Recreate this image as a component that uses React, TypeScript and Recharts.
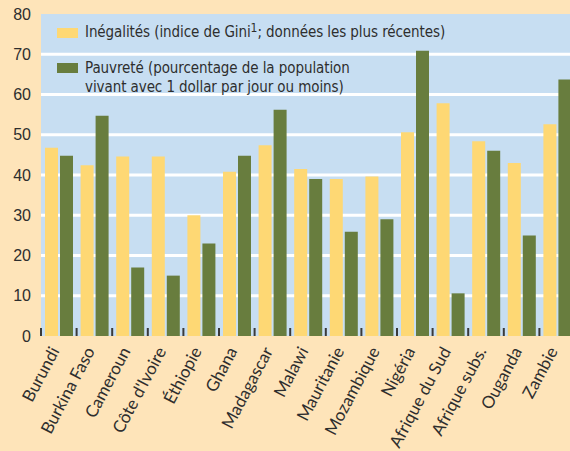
import React from 'react';
import { BarChart, Bar, XAxis, YAxis, CartesianGrid, Legend } from 'recharts';

const countries = ['Burundi', 'Burkina Faso', 'Cameroun', "Côte d'Ivoire", 'Éthiopie', 'Ghana', 'Madagascar', 'Malawi', 'Mauritanie', 'Mozambique', 'Nigéria', 'Afrique du Sud', 'Afrique subs.', 'Ouganda', 'Zambie'];
const gini = [46.8, 42.4, 44.6, 44.6, 30, 40.8, 47.4, 41.5, 39, 39.6, 50.6, 57.8, 48.4, 43, 52.6];
const poverty = [44.8, 54.7, 17, 15, 23, 44.8, 56.2, 39, 25.9, 29, 70.9, 10.6, 46, 25, 63.7];
const yTicks = [0, 10, 20, 30, 40, 50, 60, 70, 80];
const gridValues = [10, 20, 30, 40, 50, 60, 70];
const yMax = 80;

const data = countries.map((c, i) => ({ name: c, gini: gini[i], poverty: poverty[i] }));

const CONDENSED = "'DejaVu Sans Condensed', 'Liberation Sans Narrow', sans-serif";
const LABEL_FONT = "Lato, 'Open Sans', sans-serif";
const BG = '#FEE4B9';
const PLOT = '#C7DEF2';
const YELLOW = '#FED874';
const GREEN = '#687D3E';
const TEXT = '#2e2e2e';

const gridGen = (args: any) => {
  const s = args && args.yAxis && args.yAxis.scale;
  if (typeof s === 'function') return gridValues.map((v) => s(v));
  if (s && typeof s.map === 'function') return gridValues.map((v) => s.map(v));
  const off = args.offset;
  return gridValues.map((v) => off.top + off.height * (1 - v / yMax));
};

const XTick = (props: any) => {
  const { x, y, payload, width, visibleTicksCount } = props;
  const step = Number(width) > 0 && Number(visibleTicksCount) > 0 ? Number(width) / Number(visibleTicksCount) : 2 * (Number(payload.offset) || 17.8);
  const lx = x - step / 2;
  const tx = x + 1;
  const ty = y + 15;
  return (
    <g>
      <rect x={lx - 1} y={y - 8} width={2} height={8} fill="#3a3a3a" />
      <text x={tx} y={ty} transform={`rotate(-62, ${tx}, ${ty})`} textAnchor="end" fontSize={17} fill={TEXT} fontFamily={LABEL_FONT}>
        {payload.value}
      </text>
    </g>
  );
};

const LegendContent = () => (
  <div style={{ fontFamily: CONDENSED, fontSize: 15, letterSpacing: '-0.08px', color: TEXT, lineHeight: '19px', whiteSpace: 'nowrap' }}>
    <div style={{ display: 'flex', alignItems: 'flex-start' }}>
      <span style={{ display: 'inline-block', flex: '0 0 21px', width: 21, height: 10, background: YELLOW, marginTop: 5, marginRight: 7 }} />
      <span>
        Inégalités (indice de Gini<span style={{ fontSize: 12, position: 'relative', top: -5 }}>1</span>; données les plus récentes)
      </span>
    </div>
    <div style={{ display: 'flex', alignItems: 'flex-start', marginTop: 16 }}>
      <span style={{ display: 'inline-block', flex: '0 0 21px', width: 21, height: 10, background: GREEN, marginTop: 4, marginRight: 7 }} />
      <span>
        Pauvreté (pourcentage de la population
        <br />
        vivant avec 1 dollar par jour ou moins)
      </span>
    </div>
  </div>
);

export default function App() {
  return (
    <div style={{ position: 'absolute', left: 0, top: 0, width: 570, height: 451, overflow: 'hidden', background: BG }}>
      <BarChart
        width={575}
        height={451}
        data={data}
        margin={{ top: 14, right: 0, bottom: 0, left: 0 }}
        barSize={13}
        barGap={2}
      >
        <CartesianGrid
          vertical={false}
          stroke="#ffffff"
          strokeWidth={3}
          fill={PLOT}
          fillOpacity={1}
          horizontalCoordinatesGenerator={gridGen}
        />
        <YAxis
          domain={[0, yMax]}
          ticks={yTicks}
          width={41}
          axisLine={false}
          tickLine={false}
          tickSize={0}
          tickMargin={10}
          tick={{ fontSize: 16, fill: TEXT, fontFamily: "'Liberation Sans', Arial, sans-serif" }}
        />
        <XAxis
          dataKey="name"
          height={115}
          axisLine={false}
          tickLine={false}
          tickSize={0}
          tickMargin={0}
          interval={0}
          tick={<XTick />}
        />
        <Legend
          layout="vertical"
          align="center"
          verticalAlign="middle"
          wrapperStyle={{ left: 57, top: 23, width: 450 }}
          content={<LegendContent />}
        />
        <Bar dataKey="gini" fill={YELLOW} isAnimationActive={false} />
        <Bar dataKey="poverty" fill={GREEN} isAnimationActive={false} />
      </BarChart>
    </div>
  );
}
